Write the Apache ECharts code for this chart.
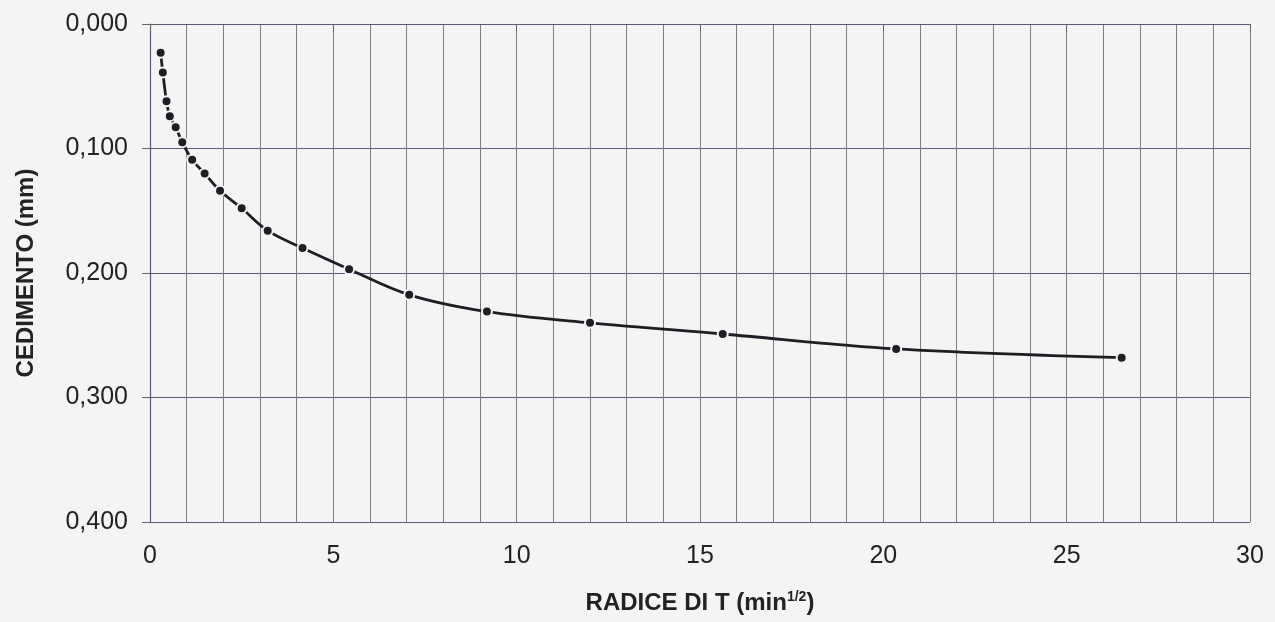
<!DOCTYPE html>
<html lang="it">
<head>
    <meta charset="UTF-8">
    <title>Cedimento - radice di t</title>
    <style>
        *{ margin: 0; padding: 0;}
        body{ background: #f5f3f4;}
        #chart{ width: 1275px; height: 622px;}
    </style>
    <script src="https://cdn.jsdelivr.net/npm/echarts@6/dist/echarts.min.js"></script>
</head>
<body>
    <div id="chart"></div>
    <script>
        // radice di t (min^1/2)
        var radiceT = [0.29, 0.35, 0.45, 0.54, 0.70, 0.88, 1.15, 1.49, 1.91, 2.50,
                       3.21, 4.16, 5.43, 7.07, 9.19, 12.0, 15.62, 20.35, 26.5];
        // cedimento (mm)
        var cedimento = [0.023, 0.039, 0.062, 0.074, 0.083, 0.095, 0.109, 0.120, 0.134, 0.148,
                         0.166, 0.180, 0.197, 0.2175, 0.231, 0.240, 0.249, 0.261, 0.268];

        var punti = radiceT.map(function (x, i) {
            return [x, cedimento[i]];
        });

        var font = "'Liberation Sans', Arial, sans-serif";
        var myChart = echarts.init(document.getElementById('chart'));

        var option = {
            backgroundColor: '#f5f3f4',
            animation: false,
            grid: { left: 150, right: 25, top: 24, bottom: 100 },
            xAxis: {
                type: 'value',
                min: 0,
                max: 30,
                interval: 5,
                name: '{a|RADICE DI T (min}{b|1/2}{a|)}',
                nameLocation: 'middle',
                nameGap: 68,
                nameTextStyle: {
                    rich: {
                        a: { fontFamily: font, fontSize: 24, fontWeight: 'bold', color: '#222' },
                        b: { fontFamily: font, fontSize: 14, fontWeight: 'bold', color: '#222', padding: [0, 0, 12, 0] }
                    }
                },
                axisLine: { lineStyle: { color: '#5a5a6e', width: 1.2 } },
                axisTick: { show: true, length: 8, lineStyle: { color: '#666' } },
                axisLabel: { fontFamily: font, fontSize: 25, color: '#222', margin: 22 },
                splitLine: { show: true, lineStyle: { color: '#7e7e7e', width: 1 } },
                minorTick: { show: false, splitNumber: 5 },
                minorSplitLine: { show: true, lineStyle: { color: '#7e7e7e', width: 1 } }
            },
            yAxis: {
                type: 'value',
                inverse: true,
                min: 0,
                max: 0.4,
                interval: 0.1,
                name: 'CEDIMENTO (mm)',
                nameLocation: 'middle',
                nameGap: 112,
                nameRotate: 90,
                nameTextStyle: { fontFamily: font, fontSize: 24, fontWeight: 'bold', color: '#222' },
                axisLine: { show: true, lineStyle: { color: '#5a5a6e', width: 1.2 } },
                axisTick: { show: true, length: 8, lineStyle: { color: '#666' } },
                axisLabel: {
                    fontFamily: font, fontSize: 25, color: '#222', margin: 22,
                    formatter: function (v) { return v.toFixed(3).replace('.', ','); }
                },
                splitLine: { show: true, lineStyle: { color: '#5b5b78', width: 1.2 } }
            },
            series: [{
                type: 'line',
                data: punti,
                smooth: 0.35,
                symbol: 'circle',
                symbolSize: 10,
                itemStyle: { color: '#1e1e24', borderColor: '#f5f3f4', borderWidth: 2 },
                lineStyle: { color: '#1e1e24', width: 2.8 }
            }]
        };
        myChart.setOption(option);
    </script>
</body>
</html>
